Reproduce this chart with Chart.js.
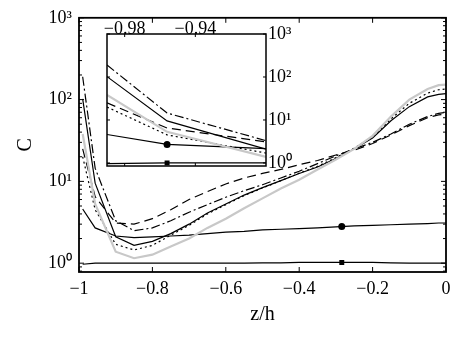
<!DOCTYPE html>
<html lang="en">
<head>
<meta charset="UTF-8">
<title>C vs z/h</title>
<script src="https://cdn.jsdelivr.net/npm/chart.js@4"></script>
<style>
body { margin: 0; background: #fff; }
#wrap { position: relative; width: 464px; height: 337px; }
#wrap canvas { position: absolute; left: 0; top: 0; }
</style>
</head>
<body>
<div id="wrap">
    <canvas id="main" width="464" height="337"></canvas>
    <canvas id="inset" width="464" height="337"></canvas>
</div>
<script>
// wall-normal positions and the seven profiles of C
const z = [-0.99, -0.956, -0.9, -0.85, -0.8, -0.75, -0.7, -0.65, -0.6, -0.55, -0.5, -0.45, -0.4, -0.35, -0.3, -0.25, -0.2, -0.15, -0.1, -0.05, -0.02, 0];
const cSolid   = [102, 9.5, 2.1, 1.65, 1.85, 2.3, 3.0, 4.1, 5.3, 6.8, 8.4, 10.2, 12.5, 15, 19, 25, 34, 55, 82, 108, 116, 118];
const cDotted  = [20, 4.5, 1.7, 1.45, 1.65, 2.2, 2.9, 4.0, 5.2, 6.7, 8.3, 10.2, 12.6, 15.3, 19.5, 25.5, 35, 58, 90, 120, 132, 135];
const cGrey    = [38, 5.3, 1.38, 1.15, 1.27, 1.6, 2.0, 2.7, 3.5, 4.7, 6.2, 8.2, 10.5, 14, 18.5, 25, 36, 62, 100, 135, 150, 152];
const cDashed  = [25, 6.5, 3.1, 3.0, 3.5, 4.5, 6.0, 7.5, 9.3, 11, 12.5, 14, 16, 18, 21, 24, 29, 37, 48, 60, 65, 66];
const cDashDot = [190, 14.5, 3.3, 2.5, 2.7, 3.3, 4.2, 5.2, 6.4, 7.7, 9.1, 11, 13.3, 16.5, 20.5, 25, 30, 38, 50, 62, 68, 70];
const cCircle  = [4.6, 2.7, 2.15, 2.05, 2.1, 2.15, 2.2, 2.3, 2.4, 2.45, 2.55, 2.6, 2.65, 2.7, 2.78, 2.85, 2.9, 2.95, 3.0, 3.05, 3.1, 3.1];
const cSquare  = [0.97, 1.0, 1.0, 1.0, 1.0, 1.0, 1.0, 1.0, 1.0, 1.0, 1.01, 1.01, 1.02, 1.02, 1.02, 1.02, 1.02, 1.01, 1.0, 1.0, 1.0, 1.0];

// single markers on the circle / square lines
const markerZ = -0.284;
const markerCircle = 2.8;
const markerSquare = 1.02;
const insetMarkerZ = -0.956;
const insetMarkerCircle = 2.7;
const insetMarkerSquare = 1.0;

// ticks
const xTicks = [-1, -0.8, -0.6, -0.4, -0.2, 0];
const xTickLabels = ['\u22121', '\u22120.8', '\u22120.6', '\u22120.4', '\u22120.2', '0'];
const insetXTicks = [-0.98, -0.94];
const insetXTickLabels = ['\u22120.98', '\u22120.94'];
const yTicks = [1, 10, 100, 1000];
const yTickLabels = ['10\u2070', '10\u00b9', '10\u00b2', '10\u00b3'];

Chart.defaults.font.family = '"Liberation Serif", "Times New Roman", serif';
Chart.defaults.font.size = 18;
Chart.defaults.color = '#000';

const pts = ys => z.map((x, i) => ({x: x, y: ys[i]}));

function minorTicks(min, max) {
    const out = [];
    for (let k = -1; k < 3; k++) {
        for (let m = 2; m <= 9; m++) {
            const v = m * Math.pow(10, k);
            if (v > min && v < max) out.push(v);
        }
    }
    return out;
}

function lines() {
    const base = {showLine: true, pointRadius: 0, borderColor: '#000', borderWidth: 1.2, tension: 0};
    return [
        Object.assign({}, base, {data: pts(cGrey), borderColor: '#c8c8c8', borderWidth: 2.2}),
        Object.assign({}, base, {data: pts(cCircle)}),
        Object.assign({}, base, {data: pts(cSquare)}),
        Object.assign({}, base, {data: pts(cDotted), borderDash: [2, 3]}),
        Object.assign({}, base, {data: pts(cDashed), borderDash: [9, 5]}),
        Object.assign({}, base, {data: pts(cDashDot), borderDash: [9, 3, 2, 3]}),
        Object.assign({}, base, {data: pts(cSolid)})
    ];
}

function markers(mz, mc, ms) {
    return [
        {data: [{x: mz, y: mc}], showLine: false, pointStyle: 'circle', pointRadius: 3.5, backgroundColor: '#000', borderColor: '#000', borderWidth: 0},
        {data: [{x: mz, y: ms}], showLine: false, pointStyle: 'rect', pointRadius: 3.5, backgroundColor: '#000', borderColor: '#000', borderWidth: 0}
    ];
}

// frame with inward tick marks, optional white fill under the plot
const frameTicks = {
    id: 'frameTicks',
    beforeDraw(chart, args, o) {
        if (!o.fill) return;
        const a = chart.chartArea, ctx = chart.ctx;
        ctx.save();
        ctx.fillStyle = o.fill;
        ctx.fillRect(a.left, a.top, a.width, a.height);
        ctx.restore();
    },
    afterDatasetsDraw(chart, args, o) {
        const {ctx, chartArea: a} = chart;
        const xs = chart.scales.x, ys = chart.scales.y;
        ctx.save();
        ctx.strokeStyle = '#000';
        ctx.lineWidth = 1;
        ctx.beginPath();
        const vx = (v, L) => {
            const p = xs.getPixelForValue(v);
            ctx.moveTo(p, a.bottom); ctx.lineTo(p, a.bottom - L);
            ctx.moveTo(p, a.top); ctx.lineTo(p, a.top + L);
        };
        const vy = (v, L) => {
            const p = ys.getPixelForValue(v);
            ctx.moveTo(a.left, p); ctx.lineTo(a.left + L, p);
            ctx.moveTo(a.right, p); ctx.lineTo(a.right - L, p);
        };
        o.xMajor.forEach(v => vx(v, o.major));
        o.yMajor.forEach(v => vy(v, o.major));
        o.yMinor.forEach(v => vy(v, o.minor));
        ctx.stroke();
        ctx.lineWidth = o.frame;
        ctx.strokeRect(a.left, a.top, a.width, a.height);
        ctx.restore();
    }
};

const mainMin = 0.78, insetMin = 0.85;

new Chart(document.getElementById('main'), {
    type: 'scatter',
    data: {datasets: lines().concat(markers(markerZ, markerCircle, markerSquare))},
    plugins: [frameTicks],
    options: {
        responsive: false,
        animation: false,
        devicePixelRatio: 1,
        layout: {padding: {top: 17, right: 18, left: 0, bottom: 0}},
        plugins: {
            legend: {display: false},
            tooltip: {enabled: false},
            frameTicks: {xMajor: xTicks, yMajor: yTicks, yMinor: minorTicks(mainMin, 1000), major: 5, minor: 3, frame: 1.8}
        },
        scales: {
            x: {
                type: 'linear', min: -1, max: 0,
                afterBuildTicks: s => { s.ticks = xTicks.map(v => ({value: v})); },
                afterFit: s => { s.height = 65; },
                grid: {display: false, drawTicks: false},
                border: {display: false},
                ticks: {padding: 6, maxRotation: 0, callback: (v, i) => xTickLabels[i]},
                title: {display: true, text: 'z/h', font: {size: 20}, padding: {top: 0, bottom: 10}}
            },
            y: {
                type: 'logarithmic', min: mainMin, max: 1000,
                afterBuildTicks: s => { s.ticks = yTicks.map(v => ({value: v})); },
                afterFit: s => { s.width = 79; },
                grid: {display: false, drawTicks: false},
                border: {display: false},
                ticks: {padding: 7, callback: v => yTickLabels[yTicks.indexOf(v)]},
                title: {display: true, text: 'C', font: {size: 20}, padding: {top: 14, bottom: 0}}
            }
        }
    }
});

new Chart(document.getElementById('inset'), {
    type: 'scatter',
    data: {datasets: lines().concat(markers(insetMarkerZ, insetMarkerCircle, insetMarkerSquare))},
    plugins: [frameTicks],
    options: {
        responsive: false,
        animation: false,
        devicePixelRatio: 1,
        layout: {padding: {top: 0, right: 0, left: 107, bottom: 171}},
        plugins: {
            legend: {display: false},
            tooltip: {enabled: false},
            frameTicks: {fill: '#fff', xMajor: insetXTicks, yMajor: yTicks, yMinor: [], major: 3, minor: 2, frame: 1.5}
        },
        scales: {
            x: {
                type: 'linear', position: 'top', min: -0.99, max: -0.90,
                afterBuildTicks: s => { s.ticks = insetXTicks.map(v => ({value: v})); },
                afterFit: s => { s.height = 34; },
                grid: {display: false, drawTicks: false},
                border: {display: false},
                ticks: {padding: -6, maxRotation: 0, callback: (v, i) => insetXTickLabels[i]}
            },
            y: {
                type: 'logarithmic', position: 'right', min: insetMin, max: 1000,
                afterBuildTicks: s => { s.ticks = yTicks.map(v => ({value: v})); },
                afterFit: s => { s.width = 198; },
                grid: {display: false, drawTicks: false},
                border: {display: false},
                ticks: {padding: 2, callback: v => yTickLabels[yTicks.indexOf(v)]}
            }
        }
    }
});
</script>
</body>
</html>
